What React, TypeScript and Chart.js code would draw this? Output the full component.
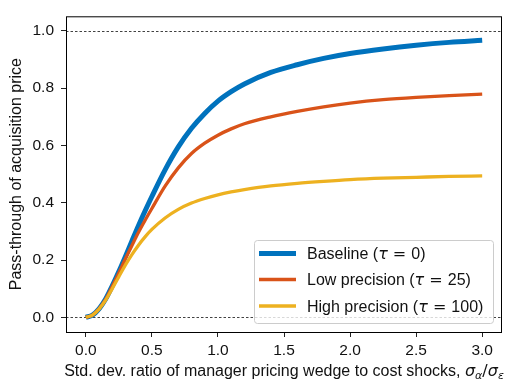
import React, { useEffect, useRef } from "react";
import { Chart, registerables } from "chart.js";

Chart.register(...registerables);

const xValues = [0, 0.05, 0.1, 0.15, 0.2, 0.25, 0.3, 0.35, 0.4, 0.45, 0.5, 0.6, 0.7, 0.8, 0.9, 1.0, 1.1, 1.2, 1.4, 1.6, 1.8, 2.0, 2.25, 2.5, 2.75, 3.0];
const baseline = [0, 0.008, 0.03, 0.064, 0.11, 0.16, 0.213, 0.268, 0.322, 0.373, 0.422, 0.515, 0.595, 0.66, 0.712, 0.755, 0.788, 0.815, 0.855, 0.882, 0.904, 0.921, 0.937, 0.95, 0.96, 0.967];
const lowPrecision = [0, 0.008, 0.03, 0.063, 0.108, 0.155, 0.205, 0.252, 0.298, 0.34, 0.38, 0.458, 0.522, 0.572, 0.608, 0.636, 0.658, 0.676, 0.7, 0.719, 0.735, 0.748, 0.76, 0.768, 0.774, 0.779];
const highPrecision = [0, 0.008, 0.029, 0.06, 0.1, 0.142, 0.183, 0.22, 0.253, 0.282, 0.307, 0.347, 0.377, 0.399, 0.415, 0.428, 0.438, 0.446, 0.459, 0.468, 0.475, 0.481, 0.486, 0.489, 0.492, 0.494];

const seriesLabels = ["Baseline", "Low precision", "High precision"];
const tauValues = ["0", "25", "100"];
const xTickValues = [0, 0.5, 1.0, 1.5, 2.0, 2.5, 3.0];
const yTickValues = [0, 0.2, 0.4, 0.6, 0.8, 1.0];
const referenceLines = [0, 1];
const xTitle = "Std. dev. ratio of manager pricing wedge to cost shocks, ";
const yTitle = "Pass-through of acquisition price";

const FONT = "'Liberation Sans', Arial, Helvetica, sans-serif";
const MATH = "'DejaVu Sans', sans-serif";
const colors = ["#0072BD", "#D95319", "#EDB120"];
const widths = [5, 3.3, 3.3];

function pts(ys: number[]) {
  return xValues.map((x, i) => ({ x, y: ys[i] }));
}

function drawPieces(ctx: CanvasRenderingContext2D, pieces: any[], x: number, y: number, align: "left" | "center") {
  let total = 0;
  for (const p of pieces) {
    ctx.font = p.font;
    total += ctx.measureText(p.t).width;
  }
  let cx = align === "center" ? x - total / 2 : x;
  ctx.textAlign = "left";
  ctx.textBaseline = "alphabetic";
  for (const p of pieces) {
    ctx.font = p.font;
    ctx.fillText(p.t, cx, y + (p.dy || 0));
    cx += ctx.measureText(p.t).width;
  }
}

const decorPlugin = {
  id: "decor",
  beforeDatasetsDraw(chart: any) {
    const { ctx, chartArea, scales } = chart;
    ctx.save();
    ctx.strokeStyle = "#111";
    ctx.lineWidth = 0.8;
    ctx.setLineDash([2.5, 2]);
    for (const v of referenceLines) {
      const y = Math.round(scales.y.getPixelForValue(v)) + 0.5;
      ctx.beginPath();
      ctx.moveTo(chartArea.left, y);
      ctx.lineTo(chartArea.right, y);
      ctx.stroke();
    }
    ctx.restore();
  },
  afterDraw(chart: any) {
    const { ctx, chartArea } = chart;
    ctx.save();
    ctx.strokeStyle = "#000";
    ctx.lineWidth = 1;
    ctx.strokeRect(chartArea.left + 0.5, chartArea.top + 0.5, chartArea.right - chartArea.left - 1, chartArea.bottom - chartArea.top);

    // legend
    const lx = 254.5, ly = 240.5, lw = 239, lh = 83, r = 3;
    ctx.beginPath();
    ctx.moveTo(lx + r, ly);
    ctx.lineTo(lx + lw - r, ly);
    ctx.arcTo(lx + lw, ly, lx + lw, ly + r, r);
    ctx.lineTo(lx + lw, ly + lh - r);
    ctx.arcTo(lx + lw, ly + lh, lx + lw - r, ly + lh, r);
    ctx.lineTo(lx + r, ly + lh);
    ctx.arcTo(lx, ly + lh, lx, ly + lh - r, r);
    ctx.lineTo(lx, ly + r);
    ctx.arcTo(lx, ly, lx + r, ly, r);
    ctx.closePath();
    ctx.fillStyle = "rgba(255,255,255,0.8)";
    ctx.fill();
    ctx.strokeStyle = "#cccccc";
    ctx.lineWidth = 1;
    ctx.stroke();

    const rows = [253.5, 279.5, 306];
    seriesLabels.forEach((lab, i) => {
      const y = rows[i];
      ctx.strokeStyle = colors[i];
      ctx.lineWidth = widths[i];
      ctx.beginPath();
      ctx.moveTo(259, y);
      ctx.lineTo(296, y);
      ctx.stroke();
      ctx.fillStyle = "#111";
      drawPieces(ctx, [
        { t: lab + " (", font: `16px ${FONT}` },
        { t: "τ", font: `italic 16px ${MATH}` },
        { t: " = ", font: `16px ${MATH}` },
        { t: tauValues[i], font: `16px ${FONT}` },
        { t: ")", font: `16px ${FONT}` },
      ], 307, y + 5.5, "left");
    });

    // x title
    ctx.fillStyle = "#111";
    const cxm = (chartArea.left + chartArea.right) / 2;
    drawPieces(ctx, [
      { t: xTitle, font: `16px ${FONT}` },
      { t: "σ", font: `italic 16px ${MATH}` },
      { t: "α", font: `italic 11px ${MATH}`, dy: 3 },
      { t: "/", font: `16px ${MATH}` },
      { t: "σ", font: `italic 16px ${MATH}` },
      { t: "ε", font: `italic 11px ${MATH}`, dy: 3 },
    ], cxm, 376, "center");

    // y title
    ctx.translate(17, (chartArea.top + chartArea.bottom) / 2);
    ctx.rotate(-Math.PI / 2);
    ctx.font = `16px ${FONT}`;
    ctx.textAlign = "center";
    ctx.textBaseline = "middle";
    ctx.fillText(yTitle, 0, 0);
    ctx.restore();
  },
};

export default function App() {
  const ref = useRef<HTMLCanvasElement>(null);
  useEffect(() => {
    if (!ref.current) return;
    const data = [baseline, lowPrecision, highPrecision];
    const chart = new Chart(ref.current, {
      type: "line",
      data: {
        datasets: data.map((d, i) => ({
          label: seriesLabels[i],
          data: pts(d),
          borderColor: colors[i],
          backgroundColor: colors[i],
          borderWidth: widths[i],
          pointRadius: 0,
          cubicInterpolationMode: "monotone" as const,
          order: 3 - i,
          fill: false,
        })),
      },
      options: {
        responsive: false,
        devicePixelRatio: 1,
        animation: false,
        layout: { padding: { left: 0, right: 6, top: 8, bottom: 0 } },
        plugins: { legend: { display: false }, tooltip: { enabled: false } },
        scales: {
          x: {
            type: "linear",
            min: -0.15,
            max: 3.15,
            afterBuildTicks: (s: any) => { s.ticks = xTickValues.map((v) => ({ value: v })); },
            afterFit: (s: any) => { s.height = 47; },
            ticks: {
              callback: (v: any) => Number(v).toFixed(1),
              font: { family: FONT, size: 15.5 },
              color: "#111",
              padding: 4,
              maxRotation: 0,
            },
            grid: { drawOnChartArea: false, drawTicks: true, tickLength: 5, color: "#222", lineWidth: 1 },
            border: { display: false },
          },
          y: {
            type: "linear",
            min: -0.051,
            max: 1.051,
            afterBuildTicks: (s: any) => { s.ticks = yTickValues.map((v) => ({ value: v })); },
            afterFit: (s: any) => { s.width = 66; },
            ticks: {
              callback: (v: any) => Number(v).toFixed(1),
              font: { family: FONT, size: 15.5 },
              color: "#111",
              padding: 7,
            },
            grid: { drawOnChartArea: false, drawTicks: true, tickLength: 5, color: "#222", lineWidth: 1 },
            border: { display: false },
          },
        },
      },
      plugins: [decorPlugin],
    });
    return () => chart.destroy();
  }, []);
  return (
    <div style={{ position: "absolute", left: 0, top: 0, width: 508, height: 379, background: "#fff" }}>
      <canvas ref={ref} width={508} height={379} />
    </div>
  );
}
